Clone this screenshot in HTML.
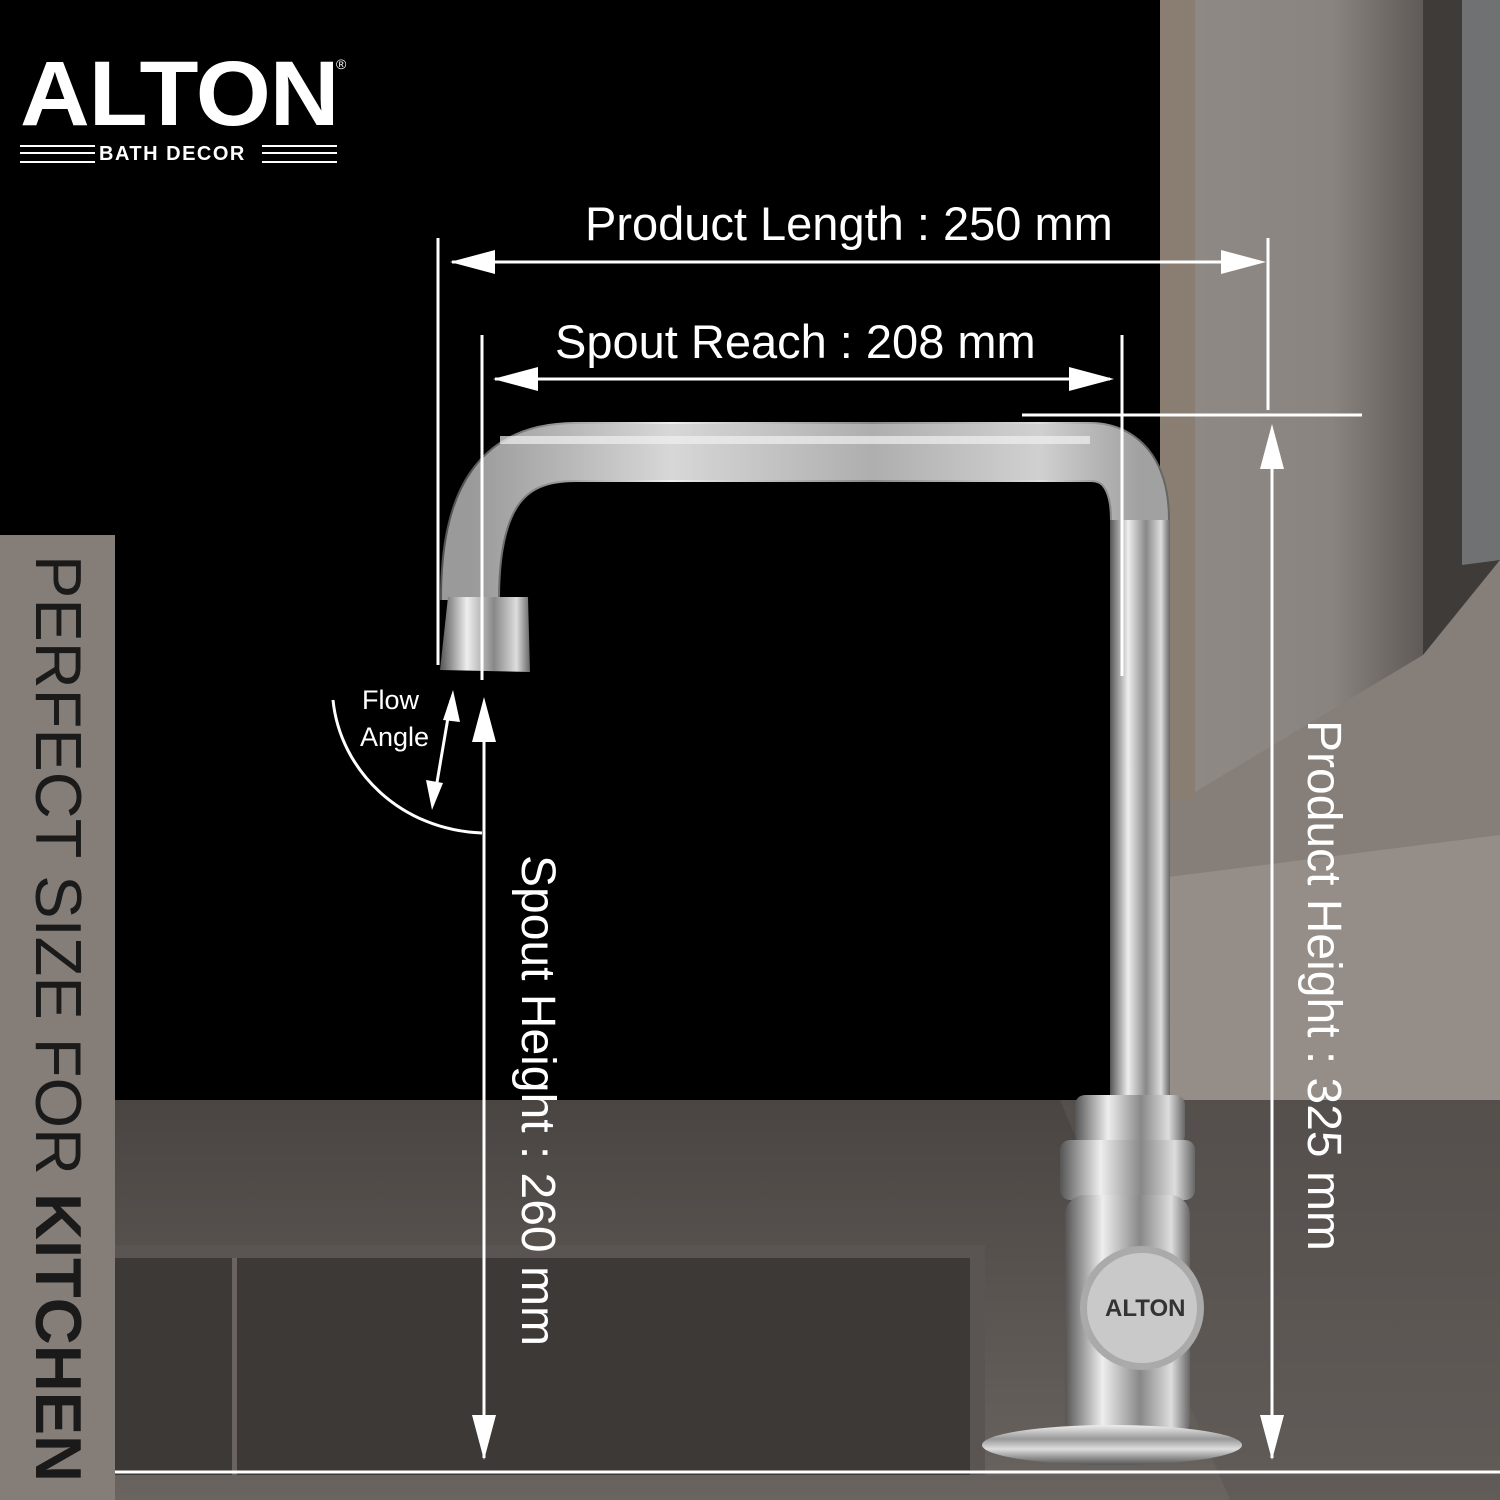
<!DOCTYPE html>
<html><head><meta charset="utf-8"><style>
html,body{margin:0;padding:0;background:#000}
#c{position:relative;width:1500px;height:1500px;overflow:hidden;font-family:"Liberation Sans",sans-serif}
svg{position:absolute;left:0;top:0}
.t{position:absolute;color:#fff;white-space:nowrap}
</style></head><body><div id="c">
<svg width="1500" height="1500" viewBox="0 0 1500 1500">
<defs>
<linearGradient id="panel" x1="0" x2="1" y1="0" y2="0"><stop offset="0" stop-color="#8f8985"/><stop offset="0.6" stop-color="#8a8480"/><stop offset="1" stop-color="#5f5a57"/></linearGradient>
<linearGradient id="counter" x1="0" x2="0" y1="0" y2="1"><stop offset="0" stop-color="#4a4542"/><stop offset="1" stop-color="#6a6460"/></linearGradient>
<linearGradient id="chromeH" x1="0" x2="0" y1="0" y2="1"><stop offset="0" stop-color="#eee"/><stop offset="0.35" stop-color="#999"/><stop offset="0.6" stop-color="#ddd"/><stop offset="1" stop-color="#555"/></linearGradient>
<linearGradient id="chromeV" x1="0" x2="1" y1="0" y2="0"><stop offset="0" stop-color="#555"/><stop offset="0.3" stop-color="#eee"/><stop offset="0.6" stop-color="#888"/><stop offset="0.85" stop-color="#ddd"/><stop offset="1" stop-color="#666"/></linearGradient>
</defs>
<rect width="1500" height="1500" fill="#000"/>
<rect x="1160" y="0" width="340" height="1100" fill="#857e79"/>
<rect x="1160" y="0" width="35" height="800" fill="#8a7e72"/>
<polygon points="1195,0 1423,0 1423,655 1195,792" fill="url(#panel)"/>
<polygon points="1423,0 1500,0 1500,560 1423,655" fill="#3e3b39"/>
<polygon points="1462,0 1500,0 1500,560 1462,565" fill="#6f7172"/>
<polygon points="1168,877 1500,835 1500,1100 1168,1100" fill="#958d88"/>
<rect x="115" y="1100" width="1385" height="400" fill="url(#counter)"/>
<polygon points="1060,1100 1500,1100 1500,1500 1230,1500" fill="#5c5754" opacity="0.6"/>
<rect x="115" y="1245" width="870" height="230" fill="#5a5552"/>
<rect x="115" y="1258" width="855" height="217" fill="#3d3937"/>
<rect x="232" y="1258" width="5" height="217" fill="#6a6360"/>
<rect x="0" y="535" width="115" height="965" fill="#857e78"/>
<path d="M470,600 C470,500 500,450 580,452 L1090,452 C1125,452 1140,480 1140,520 L1140,1110" fill="none" stroke="url(#chromeV)" stroke-width="60"/>
<path d="M470,600 C470,500 500,450 580,452 L1090,452 C1125,452 1140,480 1140,520" fill="none" stroke="#c8c8c8" stroke-width="56" opacity="0.6"/>
<path d="M500,440 L1090,440" stroke="#f0f0f0" stroke-width="8" opacity="0.7"/>
<rect x="1110" y="520" width="60" height="600" fill="url(#chromeV)"/>
<polygon points="448,597 528,597 530,672 440,670" fill="url(#chromeV)"/>
<rect x="1075" y="1095" width="110" height="50" rx="10" fill="url(#chromeV)"/>
<rect x="1060" y="1140" width="135" height="60" rx="10" fill="url(#chromeV)"/>
<rect x="1065" y="1195" width="125" height="245" rx="20" fill="url(#chromeV)"/>
<circle cx="1142" cy="1308" r="62" fill="#aaa"/>
<circle cx="1142" cy="1308" r="55" fill="#c9c9c9"/>
<ellipse cx="1112" cy="1445" rx="130" ry="20" fill="url(#chromeH)"/>
<g stroke="#fff" stroke-width="3" fill="none">
<line x1="438" y1="238" x2="438" y2="665"/>
<line x1="1268" y1="238" x2="1268" y2="410"/>
<line x1="452" y1="262" x2="1255" y2="262"/>
<line x1="482" y1="335" x2="482" y2="680"/>
<line x1="1122" y1="335" x2="1122" y2="676"/>
<line x1="495" y1="379" x2="1110" y2="379"/>
<line x1="1022" y1="415" x2="1362" y2="415"/>
<line x1="1272" y1="435" x2="1272" y2="1458"/>
<line x1="484" y1="705" x2="484" y2="1458"/>
<line x1="115" y1="1472" x2="1500" y2="1472"/>
<line x1="451" y1="700" x2="434" y2="800"/>
<path d="M333,700 C340,770 400,830 482,833"/>
</g>
<g fill="#fff">
<polygon points="450,262 495,250 495,274"/>
<polygon points="1266,262 1221,250 1221,274"/>
<polygon points="493,379 538,367 538,391"/>
<polygon points="1114,379 1069,367 1069,391"/>
<polygon points="1272,424 1260,469 1284,469"/>
<polygon points="1272,1460 1260,1415 1284,1415"/>
<polygon points="484,697 472,742 496,742"/>
<polygon points="484,1460 472,1415 496,1415"/>
<polygon points="453,690 443,720 460,722"/>
<polygon points="432,810 426,780 443,783"/>
</g>
</svg>
<div class="t" style="left:20px;top:44px;font-size:92px;font-weight:bold;letter-spacing:-1px;line-height:100px;transform:scaleX(1.05);transform-origin:left">ALTON</div>
<div class="t" style="left:336px;top:56px;font-size:14px">®</div>
<div style="position:absolute;left:20px;top:145px;width:75px;height:18px;border-top:2px solid #fff;border-bottom:2px solid #fff;box-sizing:border-box"><div style="border-top:2px solid #fff;margin-top:5px"></div></div>
<div style="position:absolute;left:262px;top:145px;width:75px;height:18px;border-top:2px solid #fff;border-bottom:2px solid #fff;box-sizing:border-box"><div style="border-top:2px solid #fff;margin-top:5px"></div></div>
<div class="t" style="left:99px;top:143px;font-size:20px;font-weight:bold;line-height:22px;letter-spacing:1.5px">BATH DECOR</div>
<div class="t" style="left:585px;top:199px;font-size:47px;line-height:50px">Product Length : 250 mm</div>
<div class="t" style="left:555px;top:317px;font-size:47px;line-height:50px">Spout Reach : 208 mm</div>
<div class="t" style="left:362px;top:683px;font-size:27px;line-height:34px">Flow</div>
<div class="t" style="left:360px;top:720px;font-size:27px;line-height:34px">Angle</div>
<div class="t" style="left:540px;top:855px;font-size:48px;line-height:46px;transform-origin:0 0;transform:translate(20px,0) rotate(90deg)">Spout Height : 260 mm</div>
<div class="t" style="left:1326px;top:720px;font-size:48px;line-height:46px;transform-origin:0 0;transform:translate(20px,0) rotate(90deg)">Product Height : 325 mm</div>
<div class="t" style="left:28px;top:555px;font-size:65px;line-height:60px;color:#1a1a1a;transform-origin:0 0;transform:translate(60px,0) rotate(90deg)">PERFECT SIZE FOR <b>KITCHEN</b></div>
<div class="t" style="left:1105px;top:1295px;font-size:24px;font-weight:bold;color:#333">ALTON</div>
</div></body></html>
